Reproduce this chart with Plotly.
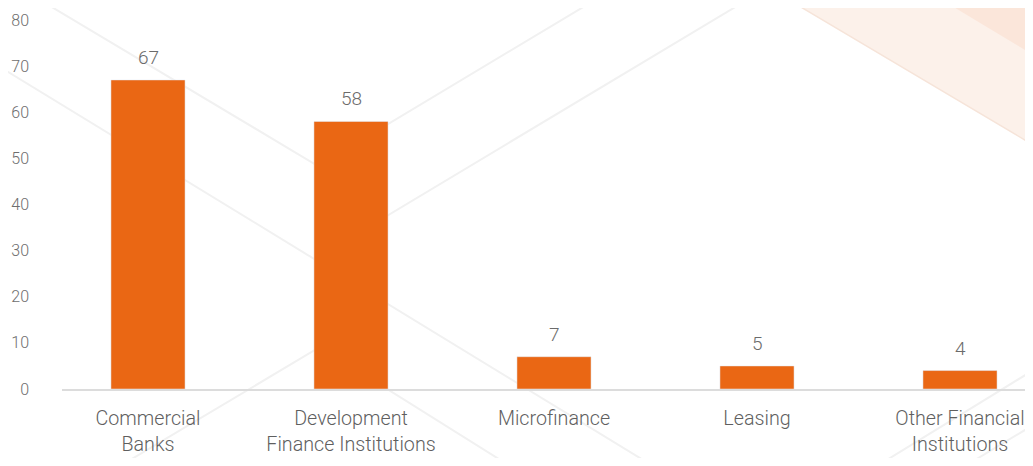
import plotly.graph_objects as go

categories = ["Commercial<br>Banks", "Development<br>Finance Institutions", "Microfinance",
              "Leasing", "Other Financial<br>Institutions"]
values = [67, 58, 7, 5, 4]
y_ticks = [0, 10, 20, 30, 40, 50, 60, 70, 80]

OFF = 8  # default page body margin
W, H = 1033 - 2 * OFF, 466 - 2 * OFF
# plot area in page pixels: x 62..1025 (visible), y 20..389
ML, MT = 62 - OFF, 20 - OFF
MR = 0
MB = H - (389 - OFF)
PW, PH = W - ML - MR, H - MT - MB
SPACING = 203.0  # px per category in the reference
X0 = -(148 - 62) / SPACING
X1 = X0 + PW / SPACING

def px2paper(x, y):
    # x, y in page pixels
    return (x - OFF - ML) / PW, (H - MB - (y - OFF)) / PH

BAR = "#EA6714"
FONT = "Roboto"

fig = go.Figure()
fig.add_trace(go.Bar(
    x=list(range(len(categories))), y=values, marker_color=BAR, width=0.365,
    hoverinfo="skip", showlegend=False,
))
for i, v in enumerate(values):
    fig.add_annotation(x=i, y=v, text=str(v), showarrow=False, yanchor="bottom",
                       yshift=9, font=dict(family=FONT, size=19, color="#6b6b6b", weight=300))

# decorative background
shapes = []
def poly(points, fill, line="rgba(0,0,0,0)", lw=0):
    pts = [px2paper(x, y) for x, y in points]
    path = "M " + " L ".join(f"{x:.5f},{y:.5f}" for x, y in pts) + " Z"
    shapes.append(dict(type="path", xref="paper", yref="paper", path=path,
                       fillcolor=fill, line=dict(color=line, width=lw), layer="below"))
def seg(points, color="#f1f1f1", lw=2):
    pts = [px2paper(x, y) for x, y in points]
    path = "M " + " L ".join(f"{x:.5f},{y:.5f}" for x, y in pts)
    shapes.append(dict(type="path", xref="paper", yref="paper", path=path,
                       line=dict(color=color, width=lw), layer="below"))

poly([(789, 0), (1040, 149), (1040, 0)], "#FCF1EA", "#F6E4D9", 1.5)
poly([(942, 0), (1040, 59), (1040, 0)], "#FBE6DA")
seg([(40, 0), (318, 166), (595, 0)])
seg([(0, 67), (653, 466)])
seg([(320, 256), (747, 0)])
seg([(120, 466), (320, 347), (510, 466)])
seg([(877, 466), (1040, 366)])
seg([(965, 466), (1040, 421)])

fig.update_layout(
    width=W, height=H,
    margin=dict(l=ML, r=MR, t=MT, b=MB, pad=0),
    paper_bgcolor="white", plot_bgcolor="rgba(0,0,0,0)",
    shapes=shapes,
    xaxis=dict(
        tickmode="array", tickvals=list(range(len(categories))), ticktext=categories,
        range=[X0, X1], showgrid=False, zeroline=False,
        showline=True, linecolor="#dcdcdc", linewidth=1.5, ticks="",
        tickfont=dict(family=FONT, size=19.7, color="#5f5f5f", weight=300),
        ticklabelstandoff=11, fixedrange=True, automargin=False,
        ticklabeloverflow="allow",
    ),
    yaxis=dict(
        range=[0, 80], tickvals=y_ticks, showgrid=False, zeroline=False,
        showline=False, ticks="",
        tickfont=dict(family=FONT, size=16, color="#6e6e6e", weight=300),
        ticklabelstandoff=32, fixedrange=True, automargin=False,
    ),
)
fig.write_html("out.html")
